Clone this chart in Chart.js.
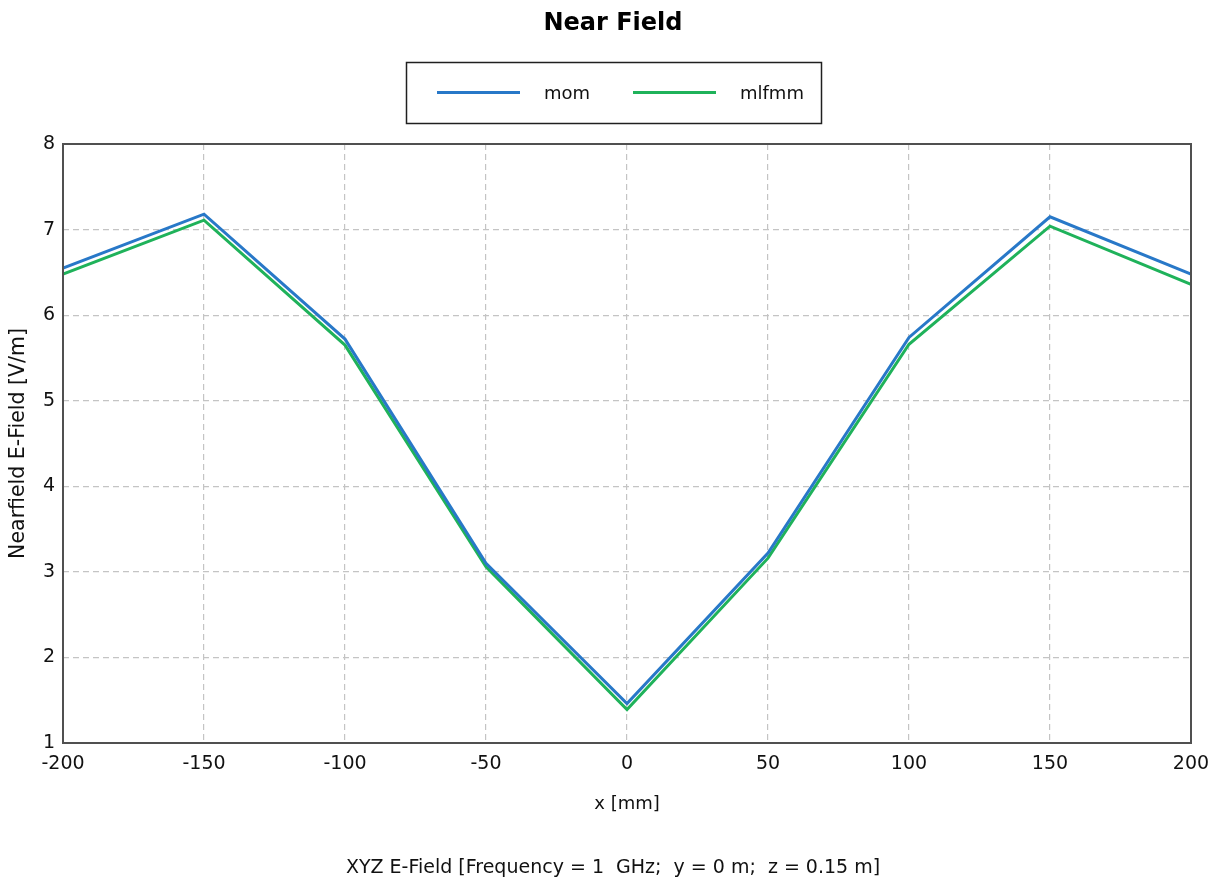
<!DOCTYPE html>
<html>
<head>
<meta charset="utf-8">
<script src="https://cdn.jsdelivr.net/npm/chart.js@4.4.1/dist/chart.umd.min.js"></script>
<style>
  html, body { margin: 0; padding: 0; background: #fff; }
  canvas { display: block; }
</style>
</head>
<body>
<canvas id="chart" width="1216" height="882"></canvas>
<script>
// datos
const xValues = [-200, -150, -100, -50, 0, 50, 100, 150, 200];
const momValues = [6.55, 7.18, 5.72, 3.10, 1.46, 3.22, 5.74, 7.15, 6.48];
const mlfmmValues = [6.48, 7.11, 5.65, 3.06, 1.39, 3.16, 5.66, 7.04, 6.36];
const seriesNames = ['mom', 'mlfmm'];
const seriesColors = ['#2878c8', '#1fb25a'];

const FONT = "'DejaVu Sans', sans-serif";

// marco del área de gráfico (los 4 lados)
const framePlugin = {
  id: 'frame',
  afterDatasetsDraw(chart) {
    const { ctx, chartArea: a } = chart;
    ctx.save();
    ctx.strokeStyle = '#505050';
    ctx.lineWidth = 2;
    ctx.strokeRect(a.left, a.top, a.right - a.left, a.bottom - a.top);
    ctx.restore();
  },
};

// leyenda con recuadro
const boxLegendPlugin = {
  id: 'boxLegend',
  afterDraw(chart) {
    const { ctx } = chart;
    ctx.save();
    ctx.strokeStyle = '#202020';
    ctx.lineWidth = 1.5;
    ctx.strokeRect(406.5, 62.5, 415, 61);

    const items = [
      { x: 437, text: seriesNames[0], color: seriesColors[0] },
      { x: 633, text: seriesNames[1], color: seriesColors[1] },
    ];
    ctx.font = '18px ' + FONT;
    ctx.textBaseline = 'middle';
    ctx.textAlign = 'left';
    items.forEach((it) => {
      ctx.strokeStyle = it.color;
      ctx.lineWidth = 3;
      ctx.beginPath();
      ctx.moveTo(it.x, 92.5);
      ctx.lineTo(it.x + 83, 92.5);
      ctx.stroke();
      ctx.fillStyle = '#111';
      ctx.fillText(it.text, it.x + 107, 94);
    });
    ctx.restore();
  },
};

const makeData = (vals) => xValues.map((x, i) => ({ x, y: vals[i] }));

new Chart(document.getElementById('chart'), {
  type: 'line',
  data: {
    datasets: [
      {
        label: seriesNames[0],
        data: makeData(momValues),
        borderColor: seriesColors[0],
        backgroundColor: seriesColors[0],
        borderWidth: 3,
        pointRadius: 0,
        tension: 0,
      },
      {
        label: seriesNames[1],
        data: makeData(mlfmmValues),
        borderColor: seriesColors[1],
        backgroundColor: seriesColors[1],
        borderWidth: 3,
        pointRadius: 0,
        tension: 0,
      },
    ],
  },
  options: {
    responsive: false,
    animation: false,
    // padding izq. 35 / der. 25 -> título centrado en x=613
    layout: { padding: { left: 35, right: 25, top: 0, bottom: 0 } },
    plugins: {
      legend: { display: false },
      tooltip: { enabled: false },
      title: {
        display: true,
        text: 'Near Field',
        color: '#000',
        font: { family: FONT, size: 24, weight: 'bold' },
        padding: { top: 9.6, bottom: 105.6 },
      },
      subtitle: {
        display: true,
        position: 'bottom',
        text: 'XYZ E-Field [Frequency = 1  GHz;  y = 0 m;  z = 0.15 m]',
        color: '#111',
        font: { family: FONT, size: 19 },
        padding: { top: 33.6, bottom: 2.6 },
      },
    },
    scales: {
      x: {
        type: 'linear',
        min: -200,
        max: 200,
        afterFit(scale) {
          scale.height = 80;
          scale.paddingLeft = 0;
          scale.paddingRight = 0;
        },
        ticks: {
          stepSize: 50,
          color: '#111',
          font: { family: FONT, size: 19 },
          padding: 9.6,
        },
        grid: {
          color: '#c4c4c4',
          lineWidth: 1.2,
          drawTicks: false,
        },
        border: { display: false, dash: [6, 4] },
        title: {
          display: true,
          text: 'x [mm]',
          color: '#111',
          font: { family: FONT, size: 18 },
          padding: { top: 0, bottom: 8.2 },
        },
      },
      y: {
        min: 1,
        max: 8,
        afterFit(scale) {
          scale.width = 28;
          scale.paddingTop = 0;
          scale.paddingBottom = 0;
        },
        ticks: {
          stepSize: 1,
          color: '#111',
          font: { family: FONT, size: 19 },
          padding: 8,
        },
        grid: {
          color: '#c4c4c4',
          lineWidth: 1.2,
          drawTicks: false,
        },
        border: { display: false, dash: [6, 4] },
        title: {
          display: true,
          text: 'Nearfield E-Field [V/m]',
          color: '#111',
          font: { family: FONT, size: 20.5 },
          padding: { top: -28.3, bottom: 0 },
        },
      },
    },
  },
  plugins: [framePlugin, boxLegendPlugin],
});
</script>
</body>
</html>
